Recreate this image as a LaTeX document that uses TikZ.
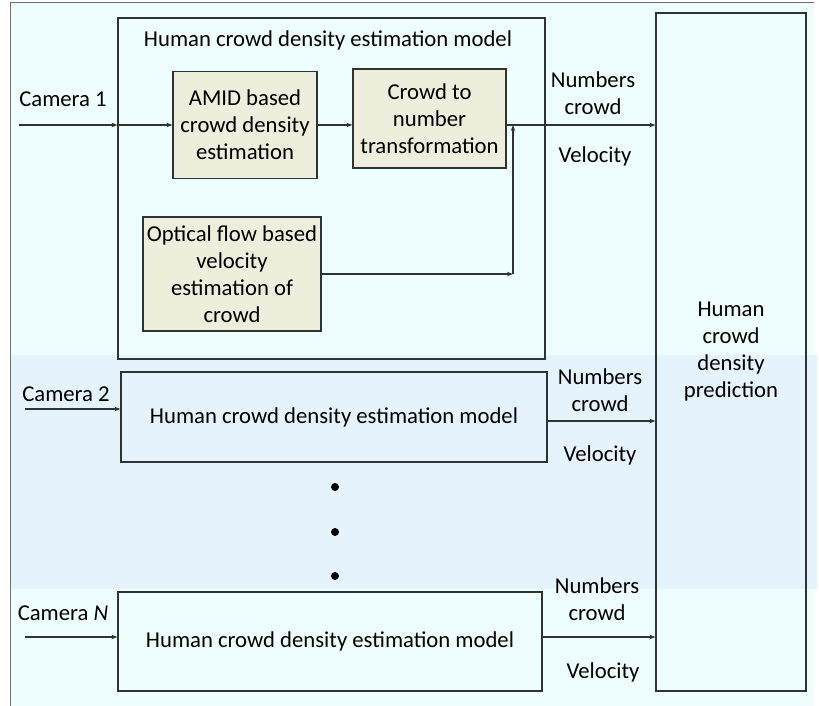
\documentclass[tikz,border=0pt]{standalone}
\usepackage{fontspec}
\setmainfont{Carlito}
\usetikzlibrary{arrows.meta}
\definecolor{bgc}{HTML}{EEFEFF}
\definecolor{bandc}{HTML}{E5F3FC}
\definecolor{beige}{HTML}{EEEEDC}
\definecolor{linec}{HTML}{2E3434}
\tikzset{
  txt/.style={font=\fontsize{22.7}{27}\selectfont, align=center, inner sep=0pt, text=black},
  frame/.style={draw=linec, line width=1.2pt, inner sep=0pt},
  beigebox/.style={frame, fill=beige, txt},
  arr/.style={draw=linec, line width=1.1pt, -{Stealth[length=6pt,width=4.5pt]}},
}
\begin{document}
\begin{tikzpicture}[x=1pt,y=-1pt]
\useasboundingbox (0,0) rectangle (819,706);
% backgrounds
\fill[bgc] (10,3) rectangle (814,706);
\fill[bandc] (11,355) rectangle (817,589);
\draw[draw=linec!70, line width=1pt] (10,706) -- (10,3) -- (814,3);

% top model box
\node[frame, minimum width=427pt, minimum height=341pt] (model1) at (331.5,188.5) {};
\node[txt] (title1) at (328,40) {Human crowd density estimation model};
\node[beigebox, minimum width=144pt, minimum height=107pt] (amid) at (245,125) {AMID based\\crowd density\\estimation};
\node[beigebox, minimum width=153pt, minimum height=99pt] (ctn) at (429.5,118.5) {Crowd to\\number\\transformation};
\node[beigebox, minimum width=178pt, minimum height=114pt] (opt) at (232,274) {Optical flow based\\velocity\\estimation of\\crowd};

% prediction box
\node[frame, minimum width=150pt, minimum height=678pt, txt] (pred) at (731,352) {Human\\crowd\\density\\prediction};

% camera 2 and N boxes
\node[frame, minimum width=426pt, minimum height=90pt, txt] (model2) at (334,417) {Human crowd density estimation model};
\node[frame, minimum width=424pt, minimum height=99pt, txt] (modelN) at (330,641.5) {Human crowd density estimation model};

% camera labels
\node[txt] (cam1l) at (63,99) {Camera 1};
\node[txt] (cam2l) at (66,394) {Camera 2};
\node[txt] (camNl) at (63,613) {Camera \textit{N}};
\coordinate (cam1) at (19,125);
\coordinate (cam2) at (25,409);
\coordinate (camN) at (25,637);

% camera 1 flow
\draw[arr] (cam1) -- (cam1 -| model1.west);
\draw[arr] (cam1 -| model1.west) -- (amid.west);
\draw[arr] (amid.east) -- (amid.east -| ctn.west);
\draw[arr] (amid.east -| ctn.east) -- (amid.east -| pred.west);
\coordinate (junc) at (513,274);
\draw[arr] (opt.east) -- (junc);
\draw[arr] (junc) -- (junc |- amid.east);

% camera 2 flow
\draw[arr] (cam2) -- (cam2 -| model2.west);
\coordinate (out2) at (547,421);
\draw[arr] (out2) -- (out2 -| pred.west);
% camera N flow
\draw[arr] (camN) -- (camN -| modelN.west);
\draw[arr] (camN -| modelN.east) -- (camN -| pred.west);

% output labels
\node[txt] (num1) at (593,93) {Numbers\\crowd};
\node[txt] (vel1) at (595,156) {Velocity};
\node[txt] (num2) at (600,390) {Numbers\\crowd};
\node[txt] (vel2) at (600,455) {Velocity};
\node[txt] (numN) at (597,599) {Numbers\\crowd};
\node[txt] (velN) at (603,672) {Velocity};

% dots
\fill[black] (335,487) circle (4pt) node (d1) {};
\fill[black] (335,532) circle (4pt) node (d2) {};
\fill[black] (335,576) circle (4pt) node (d3) {};
\end{tikzpicture}
\end{document}
